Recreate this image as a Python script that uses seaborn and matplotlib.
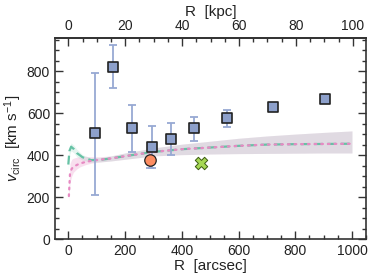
import numpy as np
import pandas as pd
import matplotlib
matplotlib.use("Agg")
import matplotlib.pyplot as plt
from matplotlib.ticker import MultipleLocator
import seaborn as sns

# ---- data ----
obs_R = [94, 159, 226, 294, 362, 444, 561, 721, 906]
obs_v = [503, 820, 528, 440, 476, 527, 575, 630, 667]
obs_lo = [210, 717, 416, 340, 400, 467, 535, 620, 660]
obs_hi = [790, 922, 638, 540, 551, 582, 614, 640, 674]

circ_R = [288]
circ_v = [376]
circ_lo = [338]
circ_hi = [390]

x_R = [469]
x_v = [363]

green_R = [0, 4, 10, 20, 30, 50, 80, 110, 150, 200, 300, 400, 500, 600, 700, 800, 900, 1000]
green_v = [355, 420, 440, 428, 410, 390, 376, 377, 384, 395, 415, 428, 436, 444, 450, 452, 453, 454]
green_lo = [330, 400, 420, 410, 392, 376, 366, 367, 372, 380, 396, 402, 405, 407, 408, 409, 410, 410]
green_hi = [380, 440, 458, 446, 428, 402, 386, 388, 396, 410, 434, 452, 466, 480, 491, 500, 508, 515]

pink_R = [2, 6, 12, 18, 30, 41, 60, 82, 110, 150, 200, 300, 400, 500, 600, 700, 800, 900, 1000]
pink_v = [205, 313, 335, 344, 353, 360, 367, 373, 378, 384, 395, 415, 428, 436, 444, 450, 452, 453, 454]
pink_lo = [185, 270, 300, 318, 334, 344, 354, 362, 367, 372, 380, 396, 402, 405, 407, 408, 409, 410, 410]
pink_hi = [235, 360, 380, 385, 390, 392, 394, 392, 392, 396, 410, 434, 452, 466, 480, 491, 500, 508, 515]

xticks = [0, 200, 400, 600, 800, 1000]
yticks = [0, 200, 400, 600, 800]
kpc_ticks = [0, 20, 40, 60, 80, 100]
kpc_per_arcsec = 0.0997

# ---- style ----
sns.set_theme(style="ticks")
plt.rcParams["font.family"] = ["Liberation Sans", "DejaVu Sans"]
plt.rcParams["mathtext.fontset"] = "custom"
plt.rcParams["mathtext.rm"] = "Liberation Sans"
plt.rcParams["mathtext.it"] = "Liberation Sans:italic"

c_blue = "#8da0cb"
c_err = "#97a9d3"
c_orange = "#fc8d62"
c_green = "#66c2a5"
c_pink = "#e78ac3"
c_lime = "#a6d854"
c_axis = "#333333"

fig = plt.figure(figsize=(3.74, 2.8), dpi=100)
ax = fig.add_axes([0.147, 0.146, 0.832, 0.718])

# bands
ax.fill_between(pink_R, pink_lo, pink_hi, color=c_pink, alpha=0.27, lw=0, zorder=1)
ax.fill_between(green_R, green_lo, green_hi, color=c_green, alpha=0.16, lw=0, zorder=1)

gdf = pd.DataFrame({"R": green_R, "v": green_v})
pdf = pd.DataFrame({"R": pink_R, "v": pink_v})
sns.lineplot(data=gdf, x="R", y="v", ax=ax, color=c_green, lw=1.6, zorder=3)
ax.lines[-1].set_dashes([4, 2])
sns.lineplot(data=pdf, x="R", y="v", ax=ax, color=c_pink, lw=1.6, zorder=3)
ax.lines[-1].set_dashes([0.8, 2.2])
ax.lines[-1].set_dash_capstyle("round")

# error bars
obs_v_a = np.array(obs_v)
ax.errorbar(obs_R, obs_v, yerr=[obs_v_a - np.array(obs_lo), np.array(obs_hi) - obs_v_a],
            fmt="none", ecolor=c_err, elinewidth=1.3, capsize=3, capthick=1.3, zorder=4)
cv = np.array(circ_v)
ax.errorbar(circ_R, circ_v, yerr=[cv - np.array(circ_lo), np.array(circ_hi) - cv],
            fmt="none", ecolor=c_err, elinewidth=1.3, capsize=3, capthick=1.3, zorder=4)

odf = pd.DataFrame({"R": obs_R, "v": obs_v})
sns.scatterplot(data=odf, x="R", y="v", ax=ax, marker="s", s=62, color=c_blue,
                edgecolor="#222222", linewidth=1.2, zorder=5)
cdf = pd.DataFrame({"R": circ_R, "v": circ_v})
sns.scatterplot(data=cdf, x="R", y="v", ax=ax, marker="o", s=68, color=c_orange,
                edgecolor="#222222", linewidth=0.9, zorder=5)
xdf = pd.DataFrame({"R": x_R, "v": x_v})
sns.scatterplot(data=xdf, x="R", y="v", ax=ax, marker="X", s=80, color=c_lime,
                edgecolor="#3a5a10", linewidth=0.7, zorder=5)

ax.set_xlim(-47, 1050)
ax.set_ylim(0, 957)
ax.set_xticks(xticks)
ax.set_yticks(yticks)
ax.xaxis.set_minor_locator(MultipleLocator(50))
ax.yaxis.set_minor_locator(MultipleLocator(50))
ax.tick_params(which="both", direction="in", top=False, right=True, colors=c_axis,
               labelsize=10, width=1.0, labelcolor="#222222")
ax.tick_params(which="major", length=6)
ax.tick_params(which="minor", length=3)
for s in ax.spines.values():
    s.set_linewidth(1.2)
    s.set_color(c_axis)

ax.set_xlabel("R  [arcsec]", fontsize=11, labelpad=1, color="#222222")
ax.set_ylabel(r"$v_{\rm circ}$  [km s$^{-1}$]", fontsize=11, labelpad=2, color="#222222")

sec = ax.secondary_xaxis("top", functions=(lambda x: x * kpc_per_arcsec,
                                           lambda k: k / kpc_per_arcsec))
sec.set_xticks(kpc_ticks)
sec.xaxis.set_minor_locator(MultipleLocator(5))
sec.tick_params(which="both", direction="in", colors=c_axis, labelsize=10,
                width=1.0, labelcolor="#222222")
sec.tick_params(which="major", length=6)
sec.tick_params(which="minor", length=3)
sec.set_xlabel("R  [kpc]", fontsize=11, labelpad=2, color="#222222")

fig.savefig("out.png", dpi=100)
